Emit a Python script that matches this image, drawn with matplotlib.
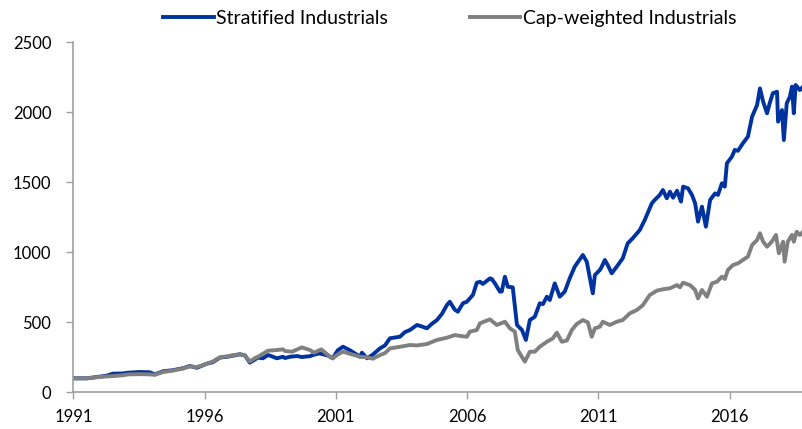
import matplotlib
matplotlib.use("Agg")
import matplotlib.pyplot as plt

# Stratified Industrials (decimal year, index level)
strat_years = [
    1991.00, 1991.51, 1992.01, 1992.25, 1992.50, 1992.89, 1993.08, 1993.53, 1993.91, 1994.10,
    1994.41, 1994.79, 1995.17, 1995.44, 1995.70, 1996.09, 1996.31, 1996.58, 1996.89, 1997.08,
    1997.35, 1997.54, 1997.72, 1997.92, 1998.03, 1998.22, 1998.41, 1998.49, 1998.75, 1998.98,
    1999.06, 1999.25, 1999.52, 1999.70, 2000.01, 2000.12, 2000.36, 2000.55, 2000.70, 2000.88,
    2001.07, 2001.27, 2001.54, 2001.92, 2001.99, 2002.19, 2002.41, 2002.68, 2002.87, 2003.06,
    2003.26, 2003.44, 2003.63, 2003.82, 2004.09, 2004.28, 2004.47, 2004.66, 2004.85, 2005.04,
    2005.23, 2005.34, 2005.53, 2005.65, 2005.84, 2005.99, 2006.22, 2006.37, 2006.49, 2006.60,
    2006.87, 2006.94, 2007.06, 2007.25, 2007.32, 2007.44, 2007.55, 2007.74, 2007.90, 2008.09,
    2008.24, 2008.39, 2008.58, 2008.77, 2008.89, 2009.04, 2009.15, 2009.34, 2009.53, 2009.72,
    2009.91, 2010.10, 2010.41, 2010.56, 2010.68, 2010.79, 2010.87, 2011.06, 2011.13, 2011.25,
    2011.36, 2011.51, 2011.70, 2011.93, 2012.12, 2012.31, 2012.58, 2012.77, 2013.04, 2013.15,
    2013.34, 2013.46, 2013.61, 2013.73, 2013.85, 2014.00, 2014.15, 2014.23, 2014.42, 2014.57,
    2014.69, 2014.80, 2014.95, 2015.10, 2015.26, 2015.45, 2015.56, 2015.71, 2015.82, 2015.90,
    2016.09, 2016.20, 2016.32, 2016.51, 2016.70, 2016.86, 2017.05, 2017.16, 2017.28, 2017.43,
    2017.53, 2017.65, 2017.81, 2017.85, 2018.00, 2018.07, 2018.18, 2018.30, 2018.38, 2018.45,
    2018.52, 2018.68, 2018.80,
]
strat_values = [
    100, 100, 112, 118, 133, 135, 140, 145, 143, 128,
    150, 158, 172, 188, 175, 205, 215, 248, 255, 262,
    272, 262, 212, 235, 248, 243, 266, 262, 243, 254,
    245, 254, 259, 252, 258, 266, 278, 270, 262, 243,
    300, 326, 300, 254, 283, 243, 270, 314, 335, 386,
    392, 397, 430, 445, 481, 470, 457, 490, 516, 560,
    623, 647, 590, 576, 636, 647, 695, 783, 790, 774,
    814, 810, 778, 719, 720, 826, 754, 750, 481, 445,
    374, 516, 540, 636, 630, 683, 659, 778, 683, 719,
    814, 897, 981, 933, 814, 707, 838, 874, 897, 945,
    909, 850, 897, 957, 1064, 1100, 1159, 1231, 1350, 1374,
    1409, 1445, 1386, 1433, 1390, 1440, 1362, 1469, 1457, 1409,
    1350, 1219, 1326, 1183, 1374, 1421, 1410, 1493, 1469, 1636,
    1683, 1731, 1725, 1779, 1826, 1969, 2052, 2171, 2076, 1993,
    2064, 2136, 2147, 1933, 2016, 1802, 2064, 2111, 2183, 1993,
    2195, 2159, 2183,
]

# Cap-weighted Industrials (decimal year, index level)
cap_years = [
    1991.00, 1991.51, 1992.01, 1992.50, 1992.89, 1993.08, 1993.53, 1993.91, 1994.10, 1994.41,
    1994.79, 1995.17, 1995.44, 1995.70, 1996.09, 1996.31, 1996.58, 1996.89, 1997.08, 1997.35,
    1997.54, 1997.72, 1997.92, 1998.03, 1998.41, 1998.75, 1998.98, 1999.06, 1999.33, 1999.70,
    2000.01, 2000.17, 2000.44, 2000.70, 2000.88, 2001.07, 2001.27, 2001.54, 2001.92, 2002.19,
    2002.41, 2002.68, 2002.87, 2003.06, 2003.44, 2003.82, 2004.09, 2004.47, 2004.85, 2005.23,
    2005.53, 2005.84, 2005.99, 2006.10, 2006.37, 2006.49, 2006.87, 2007.13, 2007.44, 2007.63,
    2007.82, 2007.93, 2008.20, 2008.39, 2008.58, 2008.77, 2009.04, 2009.27, 2009.42, 2009.61,
    2009.80, 2009.99, 2010.18, 2010.41, 2010.60, 2010.75, 2010.87, 2011.06, 2011.17, 2011.44,
    2011.70, 2011.93, 2012.20, 2012.47, 2012.70, 2012.96, 2013.23, 2013.46, 2013.73, 2014.00,
    2014.11, 2014.23, 2014.50, 2014.69, 2014.80, 2014.95, 2015.14, 2015.33, 2015.52, 2015.71,
    2015.82, 2015.94, 2016.13, 2016.32, 2016.51, 2016.70, 2016.86, 2017.05, 2017.16, 2017.28,
    2017.43, 2017.61, 2017.77, 2017.88, 2018.04, 2018.10, 2018.22, 2018.38, 2018.45, 2018.56,
    2018.68, 2018.80,
]
cap_values = [
    100, 100, 110, 116, 122, 128, 130, 128, 125, 145,
    155, 170, 185, 180, 205, 220, 250, 258, 266, 271,
    262, 220, 245, 254, 297, 302, 307, 295, 290, 321,
    302, 283, 307, 266, 243, 270, 290, 275, 254, 250,
    240, 266, 280, 314, 325, 338, 335, 345, 374, 390,
    409, 400, 397, 433, 445, 493, 521, 481, 504, 457,
    433, 302, 219, 290, 290, 326, 361, 386, 426, 361,
    370, 445, 488, 516, 500, 397, 457, 469, 504, 481,
    504, 516, 564, 588, 623, 695, 726, 736, 743, 766,
    750, 783, 765, 731, 671, 731, 683, 778, 790, 826,
    810, 874, 909, 921, 945, 969, 1052, 1088, 1136, 1076,
    1040, 1076, 1124, 993, 1076, 933, 1076, 1124, 1076, 1147,
    1124, 1147,
]

x_ticks = [1991, 1996, 2001, 2006, 2011, 2016]
y_ticks = [0, 500, 1000, 1500, 2000, 2500]

plt.rcParams["font.family"] = ["Lato", "DejaVu Sans"]

fig = plt.figure(figsize=(8.03, 4.29), dpi=100)
ax = fig.add_axes([0.0915, 0.0855, 0.9085, 0.8159])

ax.plot(strat_years, strat_values, color="#0033A0", lw=2.8, label="Stratified Industrials")
ax.plot(cap_years, cap_values, color="#808080", lw=2.8, label="Cap-weighted Industrials")

ax.set_xlim(1991, 2018.8)
ax.set_ylim(0, 2500)
ax.set_xticks(x_ticks)
ax.set_yticks(y_ticks)
ax.tick_params(axis="both", direction="out", length=5, width=1, color="#A0A0A0",
               labelsize=12, labelcolor="black")
ax.tick_params(axis="y", pad=11)
ax.tick_params(axis="x", pad=7)

for side in ["top", "right"]:
    ax.spines[side].set_visible(False)
for side in ["left", "bottom"]:
    ax.spines[side].set_color("#A0A0A0")
    ax.spines[side].set_linewidth(1.2)

ax.legend(loc="center", bbox_to_anchor=(0.56, 0.958), bbox_transform=fig.transFigure,
          ncol=2, frameon=False, fontsize=14, handlelength=2.6, handletextpad=0.12,
          columnspacing=4.2)

fig.savefig("out.png", dpi=100)
plt.close(fig)
